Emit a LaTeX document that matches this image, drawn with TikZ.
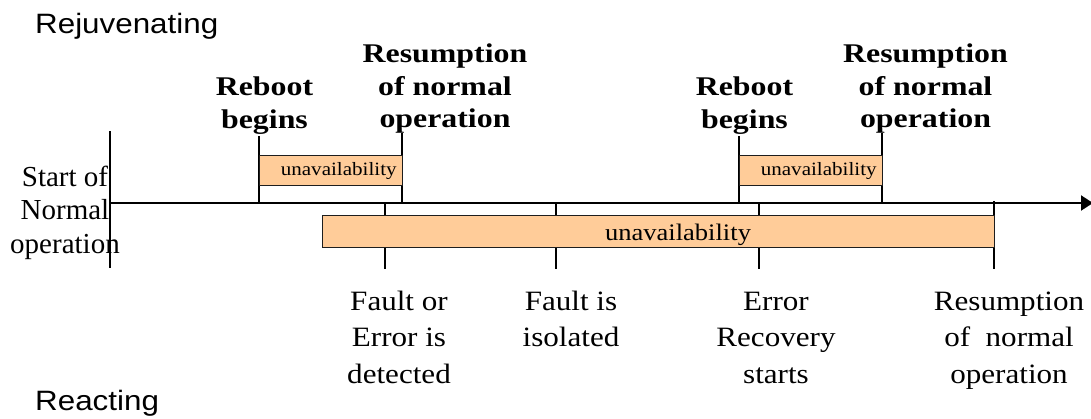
\documentclass[tikz,border=0pt]{standalone}
\usepackage{fontspec}
\setmainfont{Liberation Serif}
\newfontfamily\phasefont[FakeStretch=1.12]{Liberation Sans}
\newfontfamily\eventfont[FakeStretch=1.11]{Liberation Serif}
\newfontfamily\rebootfont[FakeStretch=1.18]{Liberation Serif}
\newfontfamily\boxfont[FakeStretch=1.12]{Liberation Serif}
\usetikzlibrary{arrows.meta}
\definecolor{peach}{RGB}{255,204,153}
\definecolor{boxline}{RGB}{30,30,30}

\begin{document}
\begin{tikzpicture}[x=1pt,y=-1pt,
  timeline/.style={line width=2pt},
  marker/.style={line width=1.3pt},
  outage/.style={draw=boxline, fill=peach, line width=1.2pt, inner sep=0pt},
  phase/.style={inner sep=0pt, anchor=base west, font=\phasefont\fontsize{28}{32}\selectfont},
  origin/.style={inner sep=0pt, anchor=base, align=center, font=\fontsize{29}{33.5}\selectfont},
  rebootlbl/.style={inner sep=0pt, anchor=base, align=center, font=\rebootfont\bfseries\fontsize{27}{32.5}\selectfont},
  eventlbl/.style={inner sep=0pt, anchor=base, align=center, font=\eventfont\fontsize{28}{36.5}\selectfont},
]
\useasboundingbox (0,0) rectangle (1091,418);

% ---- end points of the time axis and of every marker line ----
\coordinate (axisS) at (110,203);
\coordinate (axisE) at (1093,203);
\coordinate (origT) at (110,131);
\coordinate (origB) at (110,268);

\coordinate (rbAt) at (259,136);  \coordinate (rbAb) at (259,203);
\coordinate (rsAt) at (402,133);  \coordinate (rsAb) at (402,203);
\coordinate (rbBt) at (739,136);  \coordinate (rbBb) at (739,203);
\coordinate (rsBt) at (882,133);  \coordinate (rsBb) at (882,203);

\coordinate (detT) at (385,203);  \coordinate (detB) at (385,269);
\coordinate (isoT) at (556,203);  \coordinate (isoB) at (556,269);
\coordinate (recT) at (759,203);  \coordinate (recB) at (759,269);
\coordinate (resT) at (994,201);  \coordinate (resB) at (994,269);

% ---- marker lines ----
\draw[marker] (origT) -- (origB);
\draw[marker] (rbAt) -- (rbAb);
\draw[marker] (rsAt) -- (rsAb);
\draw[marker] (rbBt) -- (rbBb);
\draw[marker] (rsBt) -- (rsBb);
\draw[marker] (detT) -- (detB);
\draw[marker] (isoT) -- (isoB);
\draw[marker] (recT) -- (recB);
\draw[marker] (resT) -- (resB);

% ---- time axis ----
\draw[timeline, -{Triangle[length=12pt,width=15pt]}] (axisS) -- (axisE);

% ---- unavailability bars ----
\node[outage, anchor=north west, minimum width=143.5pt, minimum height=30pt,
      text width=131.5pt, inner xsep=6pt, align=right,
      font=\boxfont\fontsize{18.8}{20}\selectfont] (outA) at (258.5,155) {unavailability};
\node[outage, anchor=north west, minimum width=143pt, minimum height=30pt,
      text width=131pt, inner xsep=6pt, align=right,
      font=\boxfont\fontsize{18.8}{20}\selectfont] (outB) at (739,155) {unavailability};
\node[outage, anchor=north west, minimum width=672pt, minimum height=32pt] (outC) at (322,215) {};
\node[inner sep=0pt, anchor=base, font=\boxfont\fontsize{23.7}{26}\selectfont] (outCtxt) at (678,240.5) {unavailability};

% ---- phase titles ----
\node[phase] (rejuv) at (35,33) {Rejuvenating};
\node[phase] (react) at (35,410) {Reacting};

% ---- start of the time line (anchored on its last line) ----
\node[origin] (start) at (65,253) {Start of\\Normal\\operation};

% ---- rejuvenation events (anchored on their last lines) ----
\node[rebootlbl] (rbA) at (264.5,128) {Reboot\\begins};
\node[rebootlbl] (rsA) at (445,127.5) {Resumption\\of normal\\operation};
\node[rebootlbl] (rbB) at (744.5,128) {Reboot\\begins};
\node[rebootlbl] (rsB) at (925.5,127.5) {Resumption\\of normal\\operation};

% ---- reaction events (anchored on their last lines) ----
\node[eventlbl] (det) at (399,383) {Fault or\\Error is\\detected};
\node[eventlbl] (iso) at (571,346.5) {Fault is\\isolated};
\node[eventlbl] (rec) at (776,383) {Error\\Recovery\\starts};
\node[eventlbl] (res) at (1009,383) {Resumption\\of~~normal\\operation};
\end{tikzpicture}
\end{document}
